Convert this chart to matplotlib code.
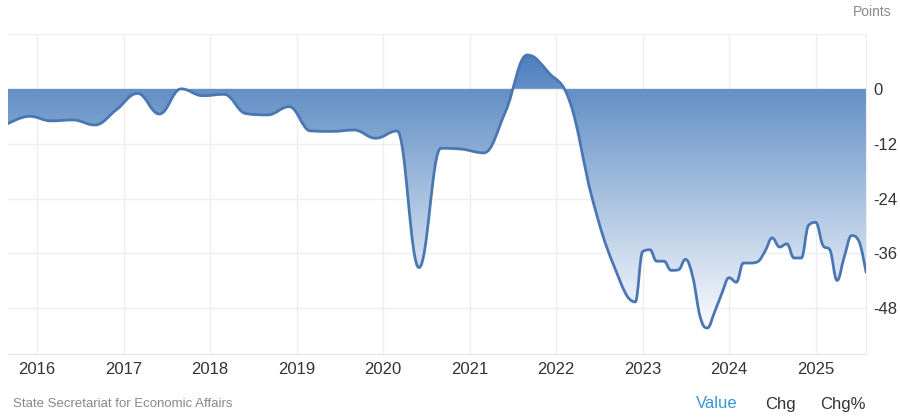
import numpy as np
import pandas as pd
import matplotlib
matplotlib.use('Agg')
import matplotlib.pyplot as plt
import matplotlib.dates as mdates
from matplotlib.path import Path
from matplotlib.patches import PathPatch
from matplotlib.colors import LinearSegmentedColormap

plt.rcParams['font.family'] = ['Liberation Sans', 'DejaVu Sans']

# quarterly readings (Sep 2015 - Dec 2022), then monthly (Jan 2023 - Aug 2025)
quarter_dates = pd.date_range('2015-09-01', '2022-12-01', freq='3MS')
quarter_values = [-7.6, -6.0,
                  -7.0, -6.8, -7.9, -4.6,
                  -1.0, -5.5, 0.0, -1.5,
                  -1.2, -5.4, -5.7, -3.9,
                  -9.2, -9.3, -9.0, -10.8,
                  -9.2, -39.1, -13.0, -13.2,
                  -14.0, -5.0, 7.4, 3.5,
                  -3.0, -23.7, -38.6, -46.6]
month_dates = pd.date_range('2023-01-01', '2025-08-01', freq='MS')
month_values = [-35.6, -35.2, -37.7, -37.7, -39.7, -39.6, -37.3, -41.2, -49.9, -52.3, -48.8, -44.8,
                -41.3, -42.3, -38.1, -38.1, -37.8, -35.5, -32.6, -34.6, -33.9, -37.0, -37.0, -29.9,
                -29.2, -34.3, -35.2, -41.9, -36.8, -32.1, -33.2, -40.1]
y_ticks = [0, -12, -24, -36, -48]

dates = list(quarter_dates) + list(month_dates)
values = quarter_values + month_values
xs = mdates.date2num(dates)
ys = np.array(values, dtype=float)


# spline like highcharts (smoothing 1.5)
def spline_path(xs, ys, sm=1.5):
    n = len(xs)
    left = [None] * n
    right = [None] * n
    right[0] = (xs[0], ys[0])
    left[-1] = (xs[-1], ys[-1])
    for i in range(1, n - 1):
        px, py = xs[i], ys[i]
        lx, ly = xs[i - 1], ys[i - 1]
        nx, ny = xs[i + 1], ys[i + 1]
        d = sm + 1
        lcx, lcy = (sm * px + lx) / d, (sm * py + ly) / d
        rcx, rcy = (sm * px + nx) / d, (sm * py + ny) / d
        corr = ((rcy - lcy) * (rcx - px)) / (rcx - lcx) + py - rcy
        lcy += corr
        rcy += corr
        if lcy > ly and lcy > py:
            lcy = max(ly, py); rcy = 2 * py - lcy
        elif lcy < ly and lcy < py:
            lcy = min(ly, py); rcy = 2 * py - lcy
        if rcy > ny and rcy > py:
            rcy = max(ny, py); lcy = 2 * py - rcy
        elif rcy < ny and rcy < py:
            rcy = min(ny, py); lcy = 2 * py - rcy
        left[i] = (lcx, lcy)
        right[i] = (rcx, rcy)
    verts = [(xs[0], ys[0])]
    codes = [Path.MOVETO]
    for i in range(1, n):
        verts += [right[i - 1], left[i], (xs[i], ys[i])]
        codes += [Path.CURVE4] * 3
    return verts, codes


verts, codes = spline_path(xs, ys)

fig = plt.figure(figsize=(9, 4.2), dpi=100)
ax = fig.add_axes([8 / 900, 66 / 420, 858 / 900, 320 / 420])

# gradient area down/up to zero
area = Path(verts + [(xs[-1], 0), (xs[0], 0), (xs[0], ys[0])],
            codes + [Path.LINETO, Path.LINETO, Path.CLOSEPOLY])
clip = PathPatch(area, facecolor='none', edgecolor='none', transform=ax.transData)
ax.add_patch(clip)
zero_pos = ys.max() / (ys.max() - ys.min())
cmap = LinearSegmentedColormap.from_list(
    'g', [(0, '#4d7ebf'), (zero_pos, '#6390c6'), (1, '#fbfcfe')])
grad = np.linspace(0, 1, 256).reshape(-1, 1)
img = ax.imshow(grad, cmap=cmap, aspect='auto', origin='upper',
                extent=[xs[0], xs[-1], ys.min(), ys.max()], zorder=2)
img.set_clip_path(clip)
ax.set_ylim(-58, 12)
ax.set_xlim(xs[0], xs[-1])

ax.add_patch(PathPatch(Path(verts, codes), facecolor='none', edgecolor='#4a77b4',
                       lw=2, zorder=3, capstyle='round', joinstyle='round'))

# grid
ax.set_yticks([12] + y_ticks)
ax.set_yticklabels([''] + [str(t) for t in y_ticks])
ax.xaxis.set_major_locator(mdates.YearLocator())
ax.xaxis.set_major_formatter(mdates.DateFormatter('%Y'))
ax.grid(True, color='#eeeeee', lw=1, zorder=0)
ax.set_axisbelow(True)
ax.yaxis.tick_right()
ax.tick_params(axis='both', length=0, labelsize=12, colors='#333333')
ax.tick_params(axis='x', pad=6)
ax.tick_params(axis='y', pad=5)
for s in ['top', 'left']:
    ax.spines[s].set_visible(False)
ax.spines['bottom'].set_color('#e6e6e6')
ax.spines['right'].set_color('#eeeeee')

fig.text(891 / 900, 1 - 12 / 420, 'Points', ha='right', va='center', fontsize=10, color='#888888')
fig.text(13 / 900, 1 - 404 / 420, 'State Secretariat for Economic Affairs', ha='left', va='center',
         fontsize=9.5, color='#888888')
fig.text(717 / 900, 1 - 404 / 420, 'Value', ha='center', va='center', fontsize=12, color='#3a96d4')
fig.text(780 / 900, 1 - 404 / 420, 'Chg', ha='center', va='center', fontsize=12, color='#333333')
fig.text(843 / 900, 1 - 404 / 420, 'Chg%', ha='center', va='center', fontsize=12, color='#333333')

fig.savefig('out.png', dpi=100)
